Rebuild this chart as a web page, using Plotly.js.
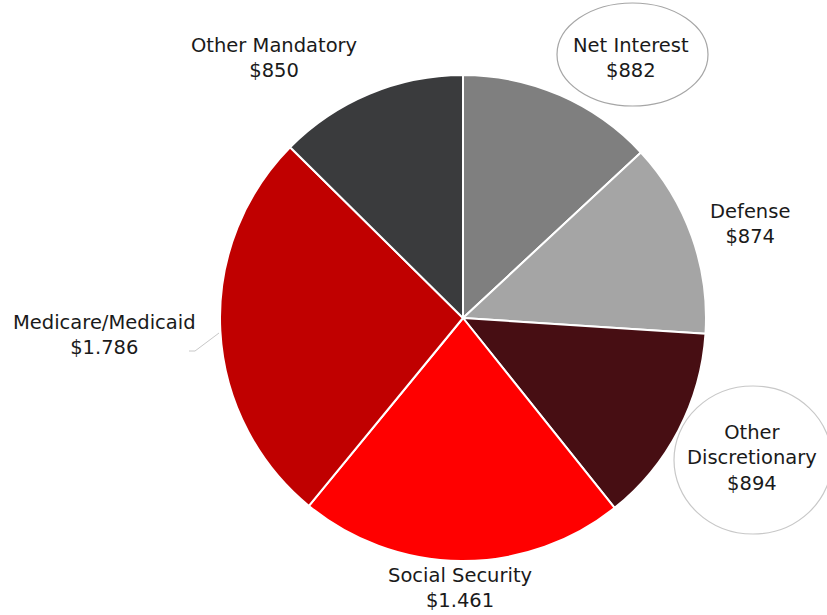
<!DOCTYPE html>
<html><head><meta charset="utf-8">
<script src="https://cdn.plot.ly/plotly-3.0.1.min.js"></script>
<style>body{margin:0;padding:0;background:#fff}#c{width:827px;height:615px}</style>
</head><body><div id="c"></div>
<script>
const categories = ["Net Interest","Defense","Other Discretionary","Social Security","Medicare/Medicaid","Other Mandatory"];
const values = [882, 874, 894, 1461, 1786, 850];
const valueLabels = ["$882","$874","$894","$1.461","$1.786","$850"];
const labelLines = [["Net Interest"],["Defense"],["Other","Discretionary"],["Social Security"],["Medicare/Medicaid"],["Other Mandatory"]];
const colors = ["#7f7f7f","#a5a5a5","#470e13","#ff0000","#c00000","#3a3b3d"];

const W = 827, H = 615;
const px = x => x / W, py = y => 1 - y / H;
// label positions in pixels
const labelPos = [[631,58],[750,224],[752,458],[460,588],[104,335],[274,58]];
const font = {family: "DejaVu Sans, sans-serif", size: 19.5, color: "#1a1a1a"};

const annotations = categories.map((c, i) => ({
  xref: "paper", yref: "paper", x: px(labelPos[i][0]), y: py(labelPos[i][1]),
  xanchor: "center", yanchor: "middle", showarrow: false, align: "center",
  text: labelLines[i].concat([valueLabels[i]]).join("<br>"), font: font
}));

const shapes = [
  {type: "circle", xref: "paper", yref: "paper", x0: px(557), x1: px(708), y0: py(106), y1: py(3),
   line: {color: "#a6a6a6", width: 1.2}},
  {type: "circle", xref: "paper", yref: "paper", x0: px(674), x1: px(832), y0: py(534), y1: py(386),
   line: {color: "#c8c8c8", width: 1.2}},
  {type: "path", xref: "paper", yref: "paper",
   path: `M ${px(189)} ${py(351)} L ${px(195)} ${py(351)} L ${px(219)} ${py(333)}`,
   line: {color: "#c8c8c8", width: 1}}
];

const trace = {
  type: "pie", labels: categories, values: values, sort: false, direction: "clockwise", rotation: 0,
  marker: {colors: colors, line: {color: "#ffffff", width: 2}},
  textinfo: "none", hoverinfo: "label+value", showlegend: false,
  domain: {x: [px(220), px(706)], y: [py(561), py(75)]}
};

Plotly.newPlot("c", [trace], {
  width: W, height: H, margin: {l: 0, r: 0, t: 0, b: 0},
  paper_bgcolor: "#fff", showlegend: false, annotations: annotations, shapes: shapes
}, {staticPlot: true});
</script></body></html>
